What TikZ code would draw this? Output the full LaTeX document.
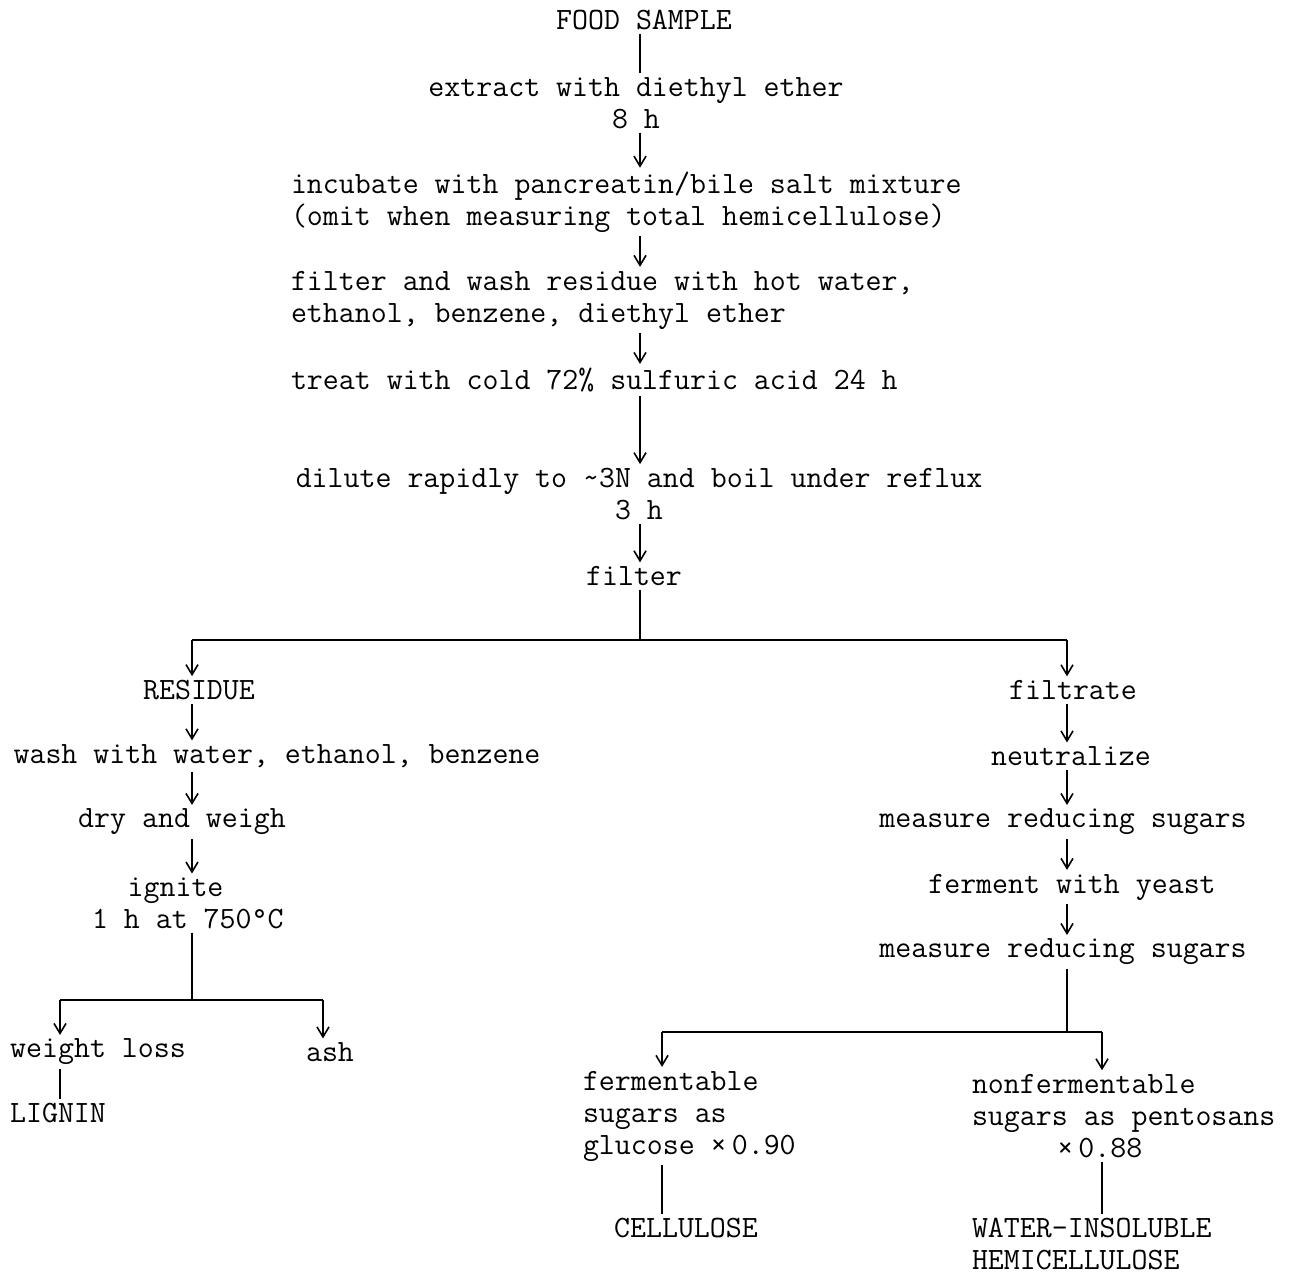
\documentclass[tikz,border=0pt]{standalone}
\usepackage{tikz}
\usetikzlibrary{arrows.meta}
\def\typeface{\fontsize{15.5}{16}\selectfont\ttfamily}

\begin{document}
\begin{tikzpicture}[x=0.5pt, y=-0.5pt,
		txt/.style={font=\typeface, inner sep=0pt, outer sep=2pt},
		flow/.style={line width=0.8pt, -{Straight Barb[length=5pt,width=6pt]}},
		link/.style={line width=0.8pt},
		bar/.style={line width=1.4pt}]
			%%%%% START %%%%%
			\useasboundingbox (0,0) rectangle (1294,1274);
			
			\coordinate (stem) at (640,0);
			\coordinate (lstem) at (192,0);
			\coordinate (rstem) at (1067,0);
			
			% main column
			\node[txt] (food) at (644,20) {FOOD SAMPLE};
			\node[txt, align=center] (extract) at (636,103) {extract with diethyl ether\\8 h};
			\node[txt, align=left, anchor=west] (incubate) at (287,202) {incubate with pancreatin/bile salt mixture\\(omit when measuring total hemicellulose)};
			\node[txt, align=left, anchor=west] (wash) at (287,300) {filter and wash residue with hot water,\\ethanol, benzene, diethyl ether};
			\node[txt, anchor=west] (treat) at (287,380) {treat with cold 72\% sulfuric acid 24 h};
			\node[txt, align=center] (dilute) at (639,494) {dilute rapidly to \textasciitilde3N and boil under reflux\\3 h};
			\node[txt] (filt) at (634,576) {filter};
			
			\draw[link] (food.south -| stem) -- (extract.north -| stem);
			\draw[flow] (extract.south -| stem) -- (incubate.north -| stem);
			\draw[flow] (incubate.south -| stem) -- (wash.north -| stem);
			\draw[flow] (wash.south -| stem) -- (treat.north -| stem);
			\draw[flow] (treat.south -| stem) -- (dilute.north -| stem);
			\draw[flow] (dilute.south -| stem) -- (filt.north -| stem);
			
			\coordinate (split) at (640,640);
			\coordinate (lsplit) at (192,640);
			\coordinate (rsplit) at (1067,640);
			\draw[link] (filt.south -| stem) -- (split);
			\draw[bar] (lsplit) -- (rsplit);
			
			% residue branch
			\node[txt] (residue) at (199,690) {RESIDUE};
			\node[txt] (rinse) at (277,756) {wash with water, ethanol, benzene};
			\node[txt] (dry) at (182,822) {dry and weigh};
			\node[txt, align=left, anchor=west] (ignite) at (88,903) {\hspace*{1.15em}ignite\\1 h at 750\textdegree C};
			
			\draw[flow] (lsplit) -- (residue.north -| lstem);
			\draw[flow] (residue.south -| lstem) -- (rinse.north -| lstem);
			\draw[flow] (rinse.south -| lstem) -- (dry.north -| lstem);
			\draw[flow] (dry.south -| lstem) -- (ignite.north -| lstem);
			
			\coordinate (lsub) at (192,1000);
			\coordinate (lsubL) at (60,1000);
			\coordinate (lsubR) at (323,1000);
			\draw[link] (ignite.south -| lstem) -- (lsub);
			\draw[bar] (lsubL) -- (lsubR);
			
			\node[txt] (loss) at (98,1052) {weight loss};
			\node[txt] (ash) at (330,1052) {ash};
			\node[txt] (lignin) at (58,1113) {LIGNIN};
			
			\draw[flow] (lsubL) -- (loss.north -| lsubL);
			\draw[flow] (lsubR) -- (ash.north -| lsubR);
			\draw[link] (loss.south -| lsubL) -- (lignin.north -| lsubL);
			
			% filtrate branch
			\node[txt] (filtrate) at (1073,690) {filtrate};
			\node[txt] (neutral) at (1071,756) {neutralize};
			\node[txt] (measA) at (1063,822) {measure reducing sugars};
			\node[txt] (ferment) at (1072,887) {ferment with yeast};
			\node[txt] (measB) at (1063,952) {measure reducing sugars};
			
			\draw[flow] (rsplit) -- (filtrate.north -| rstem);
			\draw[flow] (filtrate.south -| rstem) -- (neutral.north -| rstem);
			\draw[flow] (neutral.south -| rstem) -- (measA.north -| rstem);
			\draw[flow] (measA.south -| rstem) -- (ferment.north -| rstem);
			\draw[flow] (ferment.south -| rstem) -- (measB.north -| rstem);
			
			\coordinate (rsub) at (1067,1032);
			\coordinate (rsubL) at (662,1032);
			\coordinate (rsubR) at (1102,1032);
			\draw[link] (measB.south -| rstem) -- (rsub);
			\draw[bar] (rsubL) -- (rsubR);
			
			\node[txt, align=left, anchor=west] (ferm) at (579,1116) {fermentable\\sugars as\\glucose \texttimes\,0.90};
			\node[txt, align=left, anchor=west] (nonferm) at (968,1116) {nonfermentable\\sugars as pentosans\\\hspace*{2.75em}\texttimes\,0.88};
			\node[txt] (cellulose) at (686,1228) {CELLULOSE};
			\node[txt, align=left, anchor=west] (hemi) at (968,1244) {WATER-INSOLUBLE\\HEMICELLULOSE};
			
			\draw[flow] (rsubL) -- (ferm.north -| rsubL);
			\draw[flow] (rsubR) -- (nonferm.north -| rsubR);
			\draw[link] (ferm.south -| rsubL) -- (cellulose.north -| rsubL);
			\draw[link] (nonferm.south -| rsubR) -- (hemi.north -| rsubR);
			
			%%%%% END %%%%%
\end{tikzpicture}
\end{document}
